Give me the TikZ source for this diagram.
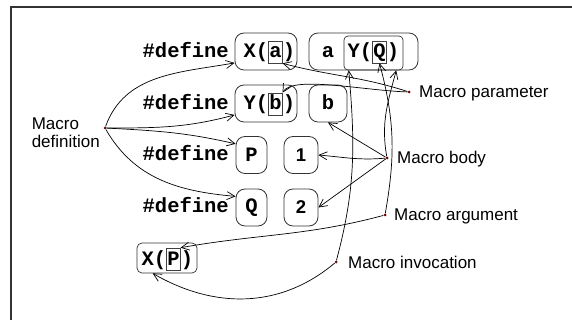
\documentclass[tikz,border=0pt]{standalone}
\usepackage{fontspec}
\setmainfont{Liberation Sans}
\newfontfamily\codefont{Liberation Mono}
\usetikzlibrary{arrows.meta}

\begin{document}
\begin{tikzpicture}[x=1pt, y=1pt]
    \tikzstyle{codeText} = [font=\codefont\bfseries\fontsize{20.5}{24}\selectfont, inner sep=0pt]
    \tikzstyle{numText} = [font=\fontsize{18.5}{20}\selectfont\bfseries]
    \tikzstyle{labelText} = [font=\fontsize{17}{18}\selectfont, inner sep=0pt]
    \tikzstyle{macBox} = [draw=black!80, line width=0.8pt, rounded corners=9pt, inner sep=0pt, minimum height=37pt]
    \tikzstyle{subBox} = [draw=black!80, line width=0.7pt, rounded corners=4pt, inner sep=0pt]
    \tikzstyle{parBox} = [codeText, draw=black!75, line width=0.6pt, inner xsep=0.6pt, text height=17pt, text depth=5pt, anchor=base]
    \tikzstyle{dotStyle} = [circle, fill=red!45!black, inner sep=0pt, minimum size=3pt]
    \tikzstyle{pointer} = [draw=black, line width=0.7pt, -{Straight Barb[length=8pt,width=8pt]}]

    \useasboundingbox (0,0) rectangle (572,-320);
    \draw[line width=2pt, black!80] (11,-320) -- (11,-7) -- (572,-7);

    % the four #define lines
    \foreach \row/\y in {1/58,2/110,3/161,4/213}
        \node[codeText, anchor=base east] (def\row) at (229,-\y) {\#define};

    % X(a)  ->  a Y(Q)
    \node[macBox, minimum width=62pt] (xa) at (266,-51.5) {};
    \node[parBox] (pa) at (275.5,-58) {a};
    \node[codeText, anchor=base east] (xaL) at (pa.base west) {X(};
    \node[codeText, anchor=base west] (xaR) at (pa.base east) {)};
    \node[macBox, minimum width=109pt] (aybody) at (363.5,-51.5) {};
    \node[subBox, minimum width=59pt, minimum height=34pt] (yq) at (373.5,-53) {};
    \node[codeText, anchor=base] (abody) at (328,-58) {a};
    \node[parBox] (pq) at (379.5,-58) {Q};
    \node[codeText, anchor=base east] (yqL) at (pq.base west) {Y(};
    \node[codeText, anchor=base west] (yqR) at (pq.base east) {)};

    % Y(b)  ->  b
    \node[macBox, minimum width=62pt] (yb) at (266,-103.5) {};
    \node[parBox] (pb) at (275.5,-110) {b};
    \node[codeText, anchor=base east] (ybL) at (pb.base west) {Y(};
    \node[codeText, anchor=base west] (ybR) at (pb.base east) {)};
    \node[macBox, minimum width=38pt] (bbody) at (328,-103.5) {};
    \node[codeText, anchor=base] (btext) at (328,-110) {b};

    % P -> 1, Q -> 2
    \node[macBox, codeText, minimum width=31pt] (pbox) at (251.5,-155) {P};
    \node[macBox, numText, minimum width=34pt] (onebox) at (301,-155) {1};
    \node[macBox, codeText, minimum width=31pt] (qbox) at (251.5,-207.5) {Q};
    \node[macBox, numText, minimum width=34pt] (twobox) at (301,-207.5) {2};

    % X(P)
    \node[subBox, minimum width=60pt, minimum height=30pt, rounded corners=5pt] (xp) at (167,-258) {};
    \node[parBox] (pp) at (173.5,-265) {P};
    \node[codeText, anchor=base east] (xpL) at (pp.base west) {X(};
    \node[codeText, anchor=base west] (xpR) at (pp.base east) {)};

    % labels
    \node[dotStyle] (mdef) at (105,-128) {};
    \node[labelText, align=left, anchor=east] (mdefText) at (100,-132.5) {Macro\\definition};
    \node[dotStyle] (mpar) at (409,-92) {};
    \node[labelText, anchor=base west] (mparText) at (419,-98) {Macro parameter};
    \node[dotStyle] (mbody) at (387,-158) {};
    \node[labelText, anchor=base west] (mbodyText) at (397,-164) {Macro body};
    \node[dotStyle] (marg) at (385,-215) {};
    \node[labelText, anchor=base west] (margText) at (394,-221) {Macro argument};
    \node[dotStyle] (minv) at (336,-262) {};
    \node[labelText, anchor=base west] (minvText) at (348,-268) {Macro invocation};

    \path[pointer] (mdef) to[out=70, in=190] (xa.200);
    \path[pointer] (mdef) to[out=0, in=195] (yb.200);
    \path[pointer] (mdef) to[out=-3, in=167] (pbox.145);
    \path[pointer] (mdef) to[out=-60, in=175] (qbox.145);
    \path[pointer] (mpar) to[out=162, in=-15] (pa.south east);
    \path[pointer] (mpar) to[out=178, in=60, out distance=45pt, in distance=20pt] (pb.north east);
    \path[pointer] (mbody) to[out=100, in=-105] (aybody.-30);
    \path[pointer] (mbody) -- (bbody.south);
    \path[pointer] (mbody) to[out=185, in=-5] (onebox.east);
    \path[pointer] (mbody) -- (twobox.east);
    \path[pointer] (marg) to[out=80, in=-75] (pq.south);
    \path[pointer] (marg) to[out=195, in=10] (pp.north east);
    \path[pointer] (minv) to[out=75, in=-85] (yq.-145);
    \path[pointer] (minv) to[out=-140, in=-30] (xp.-133);
\end{tikzpicture}
\end{document}
